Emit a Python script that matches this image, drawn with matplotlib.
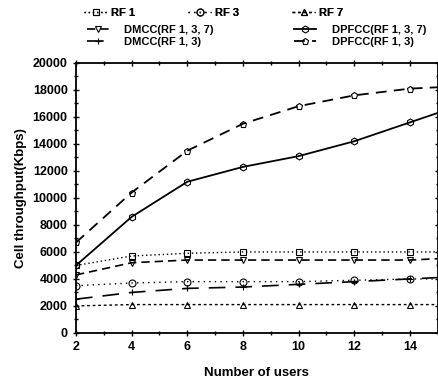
import numpy as np
import matplotlib
matplotlib.use("Agg")
import matplotlib.pyplot as plt
from matplotlib.ticker import MultipleLocator

plt.rcParams['font.family'] = ['Liberation Sans', 'DejaVu Sans']
plt.rcParams['font.weight'] = 'bold'

# data
users = [2, 4, 6, 8, 10, 12, 14, 15]
rf1 = [5000, 5700, 5900, 6000, 6000, 6000, 6000, 6000]
rf3 = [3500, 3700, 3800, 3800, 3800, 3900, 4000, 4000]
rf7 = [2000, 2100, 2100, 2100, 2100, 2100, 2100, 2100]
dmcc137 = [4300, 5200, 5400, 5400, 5400, 5400, 5400, 5500]
dmcc13 = [2500, 3000, 3300, 3400, 3600, 3800, 4000, 4100]
dpfcc137 = [5000, 8600, 11200, 12300, 13100, 14200, 15600, 16300]
dpfcc13 = [6700, 10400, 13500, 15500, 16800, 17600, 18100, 18200]

fig = plt.figure(figsize=(4.38, 3.84), dpi=100)
ax = fig.add_axes([0.1735, 0.133, 0.826, 0.703])

mk = dict(markersize=5, markerfacecolor='none', markeredgewidth=0.8,
          color='black', markevery=slice(0, 7))
l1, = ax.plot(users, rf1, linestyle=(0, (1, 2)), marker='s', lw=1, **mk)
l3, = ax.plot(users, rf3, linestyle=(0, (1, 3)), marker='o', lw=1, **mk)
l7, = ax.plot(users, rf7, linestyle=(0, (2, 2)), marker='^', lw=1, **mk)
d137, = ax.plot(users, dmcc137, linestyle=(0, (5, 3)), marker='v', lw=1.2, **mk)
d13, = ax.plot(users, dmcc13, linestyle=(0, (10, 6)), marker='+', lw=1.2, **mk)
p137, = ax.plot(users, dpfcc137, linestyle='-', marker='h', lw=1.3, **mk)
p13, = ax.plot(users, dpfcc13, linestyle=(0, (6, 4)), marker='p', lw=1.3, **mk)

ax.set_xlim(2, 15)
ax.set_ylim(0, 20000)
ax.xaxis.set_major_locator(MultipleLocator(2))
ax.xaxis.set_minor_locator(MultipleLocator(1))
ax.yaxis.set_major_locator(MultipleLocator(2000))
ax.yaxis.set_minor_locator(MultipleLocator(1000))
ax.tick_params(which='both', direction='inout', top=True, right=True,
               labelsize=9, width=1)
ax.tick_params(which='major', length=5)
ax.tick_params(which='minor', length=3)
for s in ax.spines.values():
    s.set_linewidth(1.3)

ax.set_xlabel('Number of users', fontsize=9.5, fontweight='bold', labelpad=10)
ax.set_ylabel('Cell throughput(Kbps)', fontsize=9.5, fontweight='bold')

leg1 = fig.legend([l1, l3, l7], ['RF 1', 'RF 3', 'RF 7'], ncol=3,
                  loc='upper left', bbox_to_anchor=(0.175, 1.0), frameon=False,
                  fontsize=8, handlelength=2, columnspacing=4.8,
                  handletextpad=0.4, borderpad=0.2)
leg2 = fig.legend([d137, d13, p137, p13],
                  ['DMCC(RF 1, 3, 7)', 'DMCC(RF 1, 3)',
                   'DPFCC(RF 1, 3, 7)', 'DPFCC(RF 1, 3)'],
                  ncol=2, loc='upper left', bbox_to_anchor=(0.18, 0.955),
                  frameon=False, fontsize=8, handlelength=2,
                  columnspacing=7.2, handletextpad=1.4, labelspacing=0.2,
                  borderpad=0.2)
fig.add_artist(leg1)

fig.savefig('out.png', dpi=100)
